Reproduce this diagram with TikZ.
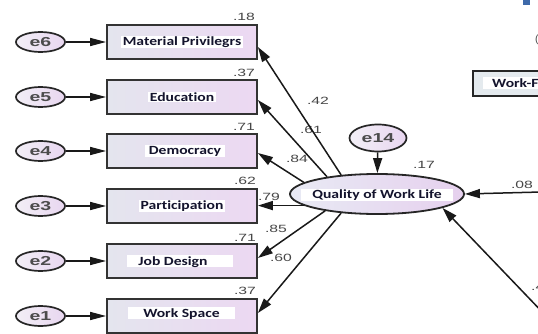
\documentclass[tikz,border=0pt]{standalone}
\usepackage{fontspec}
\usepackage{graphicx}
\setmainfont{Liberation Sans}
\newfontfamily\boxfont[RawFeature=-liga]{Carlito}
\usetikzlibrary{shapes.geometric,arrows.meta,calc}
\definecolor{boxL}{RGB}{228,229,238}
\definecolor{boxR}{RGB}{236,216,242}
\definecolor{errL}{RGB}{242,239,246}
\definecolor{errR}{RGB}{232,214,240}
\definecolor{qL}{RGB}{232,234,244}
\definecolor{qR}{RGB}{230,208,238}
\definecolor{txtc}{RGB}{20,20,45}
\definecolor{wfbox}{RGB}{228,234,238}
\definecolor{bluesq}{RGB}{62,106,170}
\newcommand{\wideA}[1]{\scalebox{1.5}[1]{#1}}
\newcommand{\wideB}[1]{\scalebox{1.25}[1]{#1}}
\begin{document}
\begin{tikzpicture}[x=1pt,y=-1pt,
  obs/.style={draw=black!80, line width=1.8pt, minimum width=150pt, minimum height=34pt, inner sep=0pt, left color=boxL, right color=boxR},
  err/.style={ellipse, draw=black!85, line width=1.7pt, minimum width=49pt, minimum height=20pt, inner sep=0pt, left color=errL, right color=errR, font=\bfseries\fontsize{13}{13}\selectfont, text=black!70},
  lab/.style={fill=white, inner xsep=1.5pt, inner ysep=1pt, font=\boxfont\bfseries\fontsize{12.5}{13}\selectfont, text=txtc},
  coef/.style={font=\fontsize{10.5}{10.5}\selectfont, text=black!72, inner sep=0pt},
  earr/.style={-{Triangle[length=16pt,width=8pt]}, line width=1.5pt, draw=black!90},
  parr/.style={-{Triangle[length=15pt,width=9pt]}, line width=1.5pt, draw=black!90},
]
\useasboundingbox (0,0) rectangle (538,334);
\fill[white] (0,0) rectangle (538,334);

% indicator boxes and error terms
\foreach \i/\y in {6/42,5/97,4/151,3/206,2/261,1/316} {
  \node[obs] (b\i) at (182,\y) {};
  \node[err] (e\i) at (40.5,\y) {\wideA{e\i}};
  \draw[earr] (e\i) -- (b\i);
}
\node[lab] (t6) at (b6) {\wideB{Material Privilegrs}};
\node[lab] (t5) at (b5) {\wideB{Education}};
\node[lab, inner xsep=4pt] (t4) at ($(b4)+(3,0)$) {\wideB{Democracy}};
\node[lab] (t3) at (b3) {\wideB{Participation}};
\node[fill=white, minimum width=106pt, minimum height=12pt, inner sep=0pt] (w2) at (180,261) {};
\node[lab, fill=none] (t2) at (173,262) {\wideB{Job Design}};
\node[fill=white, minimum width=107pt, minimum height=12pt, inner sep=0pt] (w1) at (181.5,313) {};
\node[lab, fill=none] (t1) at (181.5,314) {\wideB{Work Space}};

% squared multiple correlations
\node[coef] (c6) at (244,17) {\wideA{.18}};
\node[coef] (c5) at (244,73) {\wideA{.37}};
\node[coef] (c4) at (244,127) {\wideA{.71}};
\node[coef] (c3) at (245,181) {\wideA{.62}};
\node[coef] (c2) at (245,238) {\wideA{.71}};
\node[coef] (c1) at (245,291) {\wideA{.37}};

% latent variable
\node[ellipse, draw=black!85, line width=1.8pt, minimum width=174pt, minimum height=40pt, inner sep=0pt, left color=qL, right color=qR] (q) at (377,194) {};
\node[lab, inner xsep=11pt] (qt) at (377,195) {\wideB{Quality of Work Life}};
\node[err, minimum width=57pt, minimum height=27pt] (e14) at (378,138) {\wideA{e14}};
\node[coef] (c14) at (424,165) {\wideA{.17}};

% loadings labels
\node[coef] (l6) at (318,101) {\wideA{.42}};
\node[coef] (l5) at (311,130) {\wideA{.61}};
\node[coef] (l4) at (297,159) {\wideA{.84}};
\node[coef] (l3) at (269,197) {\wideA{.79}};
\node[coef] (l2) at (276,229) {\wideA{.85}};
\node[coef] (l1) at (281,258) {\wideA{.60}};
\node[coef] (l8) at (522,185) {\wideA{.08}};
\node[coef, anchor=west] (l9) at (531,287) {\wideA{.4}};

% loadings arrows
\coordinate (qp) at (q.189);
\draw[parr] (q.152) -- ($(b6.east)+(0,5)$);
\draw[parr] (q.161) -- ($(b5.east)+(0,3)$);
\draw[parr] (q.171) -- ($(b4.east)+(0,2)$);
\draw[parr] (qp) -- (b3.east |- qp);
\draw[parr] (q.198) -- ($(b2.east)+(0,-3)$);
\draw[parr] (q.208) -- ($(b1.east)+(0,-3)$);
\draw[parr] (e14) -- (q);

% partial elements at the right edge
\coordinate (r1) at (541,192);
\coordinate (r2) at (548,318);
\draw[parr] (r1) -- (q.east);
\draw[parr] (r2) -- (q.348);
\node[draw=black!85, line width=1.8pt, fill=wfbox, minimum width=90pt, minimum height=25pt, inner sep=0pt, anchor=north west] (wf) at (472,70) {};
\node[lab, anchor=west, inner xsep=0pt, inner ysep=1.5pt] (wft) at (483,83) {\hspace{9pt}\wideB{Work-F}};
\fill[bluesq] (523,0) rectangle (530,5);
\node[coef, anchor=west] (pc) at (535,40) {(};
\end{tikzpicture}
\end{document}
